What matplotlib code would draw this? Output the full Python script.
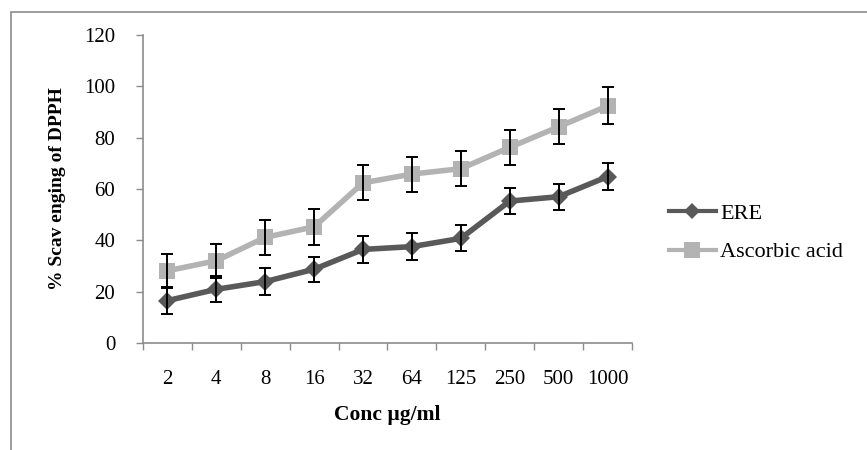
import matplotlib
matplotlib.use("Agg")
import matplotlib.pyplot as plt
from matplotlib.patches import Rectangle
from matplotlib.lines import Line2D
import numpy as np

categories = ["2", "4", "8", "16", "32", "64", "125", "250", "500", "1000"]
ere = [16.6, 21.0, 24.0, 28.8, 36.5, 37.6, 40.8, 55.3, 57.0, 64.8]
ere_err = [5.1, 5.1, 5.2, 4.8, 5.2, 5.2, 5.1, 5.1, 5.1, 5.2]
asc = [28.2, 32.1, 41.2, 45.3, 62.4, 65.8, 67.9, 76.2, 84.2, 92.3]
asc_err = [6.6, 6.6, 6.8, 7.0, 6.8, 6.8, 6.9, 6.8, 6.8, 7.2]
yticks = [0, 20, 40, 60, 80, 100, 120]

plt.rcParams['font.family'] = ['Liberation Serif', 'DejaVu Serif']

W, H = 867, 450
fig = plt.figure(figsize=(W / 100, H / 100), dpi=100)
fig.patches.append(Rectangle((11 / W, -0.1), 1.2, (H - 12) / H + 0.1,
                             transform=fig.transFigure, fill=False,
                             edgecolor='#8c8c8c', linewidth=1.2))

ax = fig.add_axes([143 / W, (H - 343.3) / H, (632 - 143) / W, (343.3 - 34.7) / H])
x = np.arange(len(categories))

c_ere = '#595959'
c_asc = '#b3b3b3'

ax.plot(x, asc, color=c_asc, linewidth=4, marker='s', markersize=12,
        markeredgewidth=0, zorder=3)
ax.errorbar(x, asc, yerr=asc_err, fmt='none', ecolor='black', elinewidth=1.4,
            capsize=4, capthick=1.4, zorder=5)
ax.plot(x, ere, color=c_ere, linewidth=4, marker='D', markersize=9,
        markeredgewidth=0, zorder=4)
ax.errorbar(x, ere, yerr=ere_err, fmt='none', ecolor='black', elinewidth=1.4,
            capsize=4, capthick=1.4, zorder=5)

ax.set_xlim(-0.5, len(categories) - 0.5)
ax.set_ylim(0, 120)
ax.set_yticks(yticks)
ax.set_xticks(np.arange(len(categories) + 1) - 0.5)
ax.set_xticklabels([])
ax.set_xticks(x, minor=True)
ax.set_xticklabels(categories, minor=True)
ax.tick_params(axis='x', which='major', length=5, color='#8c8c8c', width=1)
ax.tick_params(axis='x', which='minor', length=0, pad=19, labelsize=15)
ax.tick_params(axis='y', length=5, color='#8c8c8c', width=1, pad=15, labelsize=15)

for s in ['top', 'right']:
    ax.spines[s].set_visible(False)
for s in ['left', 'bottom']:
    ax.spines[s].set_color('#8c8c8c')
    ax.spines[s].set_linewidth(1.2)

ax.set_xlabel('Conc µg/ml', fontsize=15.5, fontweight='bold', labelpad=12)
ax.set_ylabel('% Scav enging of DPPH', fontsize=14, fontweight='bold', labelpad=12)
ax.yaxis.set_label_coords(-0.158, 0.5)

h_ere = Line2D([], [], color=c_ere, linewidth=3, marker='D', markersize=8, markeredgewidth=0)
h_asc = Line2D([], [], color=c_asc, linewidth=3, marker='s', markersize=11, markeredgewidth=0)
fig.legend([h_ere, h_asc], ['ERE', 'Ascorbic acid'], loc='center left',
           bbox_to_anchor=(669 / W, 1 - 233 / H), frameon=False, fontsize=16,
           handlelength=2.1, handletextpad=0.2, labelspacing=0.8,
           borderaxespad=0, borderpad=0)

fig.savefig('out.png', dpi=100)
